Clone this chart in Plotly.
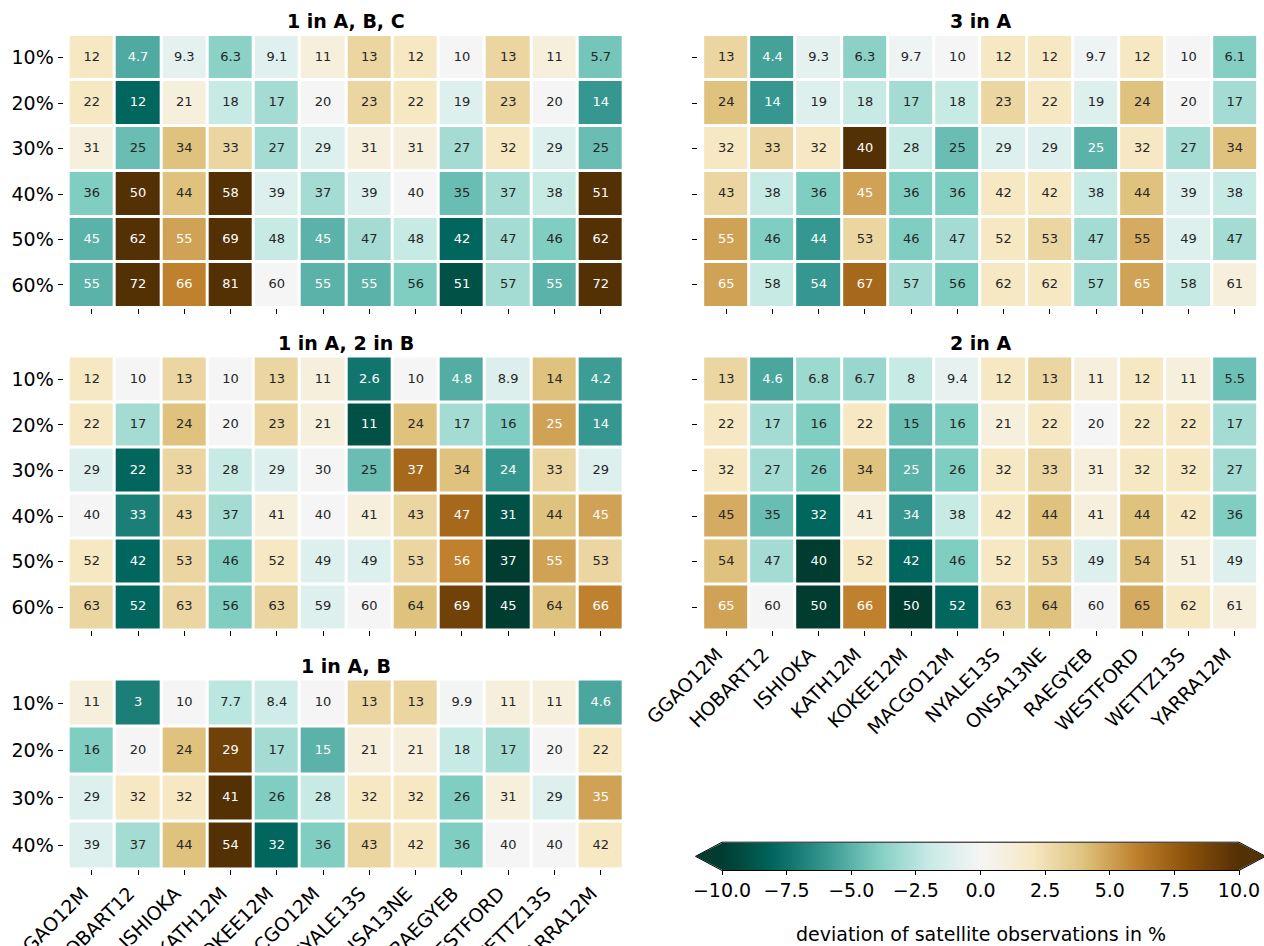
import plotly.graph_objects as go

# ---------------- data ----------------
stations = ["GGAO12M", "HOBART12", "ISHIOKA", "KATH12M", "KOKEE12M", "MACGO12M",
            "NYALE13S", "ONSA13NE", "RAEGYEB", "WESTFORD", "WETTZ13S", "YARRA12M"]
levels = [10, 20, 30, 40, 50, 60]
level_labels = ["10%", "20%", "30%", "40%", "50%", "60%"]

# satellite observations in % per station and level
abc_vals = [  # 1 in A, B, C
    [12, 4.7, 9.3, 6.3, 9.1, 11, 13, 12, 10, 13, 11, 5.7],
    [22, 12, 21, 18, 17, 20, 23, 22, 19, 23, 20, 14],
    [31, 25.4, 34, 33, 27, 29, 31, 31, 27, 32, 29, 25.4],
    [36, 50, 44, 58, 39, 37, 39, 40, 35.4, 37, 38, 51],
    [45, 62, 55, 69, 48, 45, 47, 48, 42, 47, 46, 62],
    [55, 72, 66, 81, 60, 55, 55, 56, 51, 57, 55, 72],
]
three_a_vals = [  # 3 in A
    [13, 4.4, 9.3, 6.3, 9.7, 10, 12, 12, 9.7, 12, 10, 6.1],
    [24, 14, 19, 18, 17, 18, 23, 22, 19, 24, 20, 17],
    [32, 33, 32, 40, 28, 25.4, 29, 29, 25, 32, 27, 34],
    [43, 38, 36, 45, 36, 36, 42, 42, 38, 44, 39, 38],
    [55, 46, 44, 53, 46, 47, 52, 53, 47, 54.7, 49, 47],
    [65, 58, 54, 67, 57, 56, 62, 62, 57, 65, 58, 61],
]
a2b_vals = [  # 1 in A, 2 in B
    [12, 10, 13, 10, 13, 11, 2.6, 10, 4.8, 8.9, 14, 4.2],
    [22, 17, 24, 20, 23, 21, 11, 24, 17, 16, 25, 14],
    [29, 22, 33, 28, 29, 30, 25.4, 37, 34, 24, 33, 29],
    [40, 33, 43, 37, 41, 40, 41, 43, 47, 31, 44, 45],
    [52, 42, 53, 46, 52, 49, 49, 53, 56, 37, 55, 53],
    [63, 52, 63, 56, 63, 59, 60, 64, 69, 45, 64, 66],
]
two_a_vals = [  # 2 in A
    [13, 4.6, 6.8, 6.7, 8, 9.4, 12, 13, 11, 12, 11, 5.5],
    [22, 17, 16, 22, 15.4, 16, 21, 22, 20, 22, 22, 17],
    [32, 27, 26, 34, 25, 26, 32, 33, 31, 32, 32, 27],
    [44.7, 35.4, 32, 41, 34, 38, 42, 44, 41, 44, 42, 36],
    [54, 47, 40, 52, 42, 46, 52, 53, 49, 54, 51, 49],
    [65, 60, 50, 66, 50, 52, 63, 64, 60, 64.7, 62, 61],
]
ab_vals = [  # 1 in A, B
    [11, 3, 10, 7.7, 8.4, 10, 13, 13, 9.9, 11, 11, 4.6],
    [16, 20, 24, 29, 17, 15, 21, 21, 18, 17, 20, 22],
    [29, 32, 32, 41, 26, 28, 32, 32, 26, 31, 29, 35],
    [39, 37, 44, 54, 32, 36, 43, 42, 36, 40, 40, 42],
]
cbar_ticks = [-10, -7.5, -5, -2.5, 0, 2.5, 5, 7.5, 10]

# ---------------- styling helpers ----------------
W, H = 1264, 946
FONT = "DejaVu Sans"
BRBG = ["#543005", "#8c510a", "#bf812d", "#dfc27d", "#f6e8c3", "#f5f5f5",
        "#c7eae5", "#80cdc1", "#35978f", "#01665e", "#003c30"]
CMAP = BRBG[::-1]  # BrBG_r, index 0 -> -10
colorscale = [[i / 10, c] for i, c in enumerate(CMAP)]


def hex2rgb(h):
    h = h.lstrip("#")
    return [int(h[i:i + 2], 16) for i in (0, 2, 4)]


def color_at(d):
    t = (min(max(d, -10), 10) + 10) / 20 * 10
    i = min(int(t), 9)
    f = t - i
    c0, c1 = hex2rgb(CMAP[i]), hex2rgb(CMAP[i + 1])
    return [c0[k] + (c1[k] - c0[k]) * f for k in range(3)]


def lum(rgb):
    out = []
    for v in rgb:
        v = v / 255
        out.append(v / 12.92 if v <= 0.03928 else ((v + 0.055) / 1.055) ** 2.4)
    return 0.2126 * out[0] + 0.7152 * out[1] + 0.0722 * out[2]


def xd(a, b):
    return [a / W, b / W]


def yd(top, bottom):
    return [1 - bottom / H, 1 - top / H]


def px(x):
    return x / W


def py(y):
    return 1 - y / H


fig = go.Figure()

panels = [
    # title, values, x-domain px, y-domain px, show x labels, show y labels, title y
    ("1 in A, B, C", abc_vals, (63.5, 629), (35, 307.7), False, True, 20.7),
    ("3 in A", three_a_vals, (698, 1263), (35, 307.7), False, False, 20.7),
    ("1 in A, 2 in B", a2b_vals, (63.5, 629), (356.5, 630), False, True, 343.3),
    ("2 in A", two_a_vals, (698, 1263), (356.5, 630), True, False, 343.3),
    ("1 in A, B", ab_vals, (63.5, 629), (679.5, 869), True, True, 665.7),
]

annotations = []
for k, (title, vals, xdom, ydom, showx, showy, ty) in enumerate(panels):
    n = k + 1
    sfx = "" if n == 1 else str(n)
    nrows = len(vals)
    ylabs = level_labels[:nrows]
    z = [[v - levels[r] for v in row] for r, row in enumerate(vals)]
    fig.add_trace(go.Heatmap(
        x=stations, y=ylabs, z=z, zmin=-10, zmax=10, colorscale=colorscale,
        xgap=3, ygap=3, hoverinfo="skip", showscale=(n == 1),
        xaxis="x" + sfx, yaxis="y" + sfx,
        colorbar=dict(
            orientation="h", x=(722 + 1239) / 2 / W, xanchor="center",
            y=py(842.7), yanchor="top", len=517, lenmode="pixels",
            thickness=27.3, thicknessmode="pixels", xpad=0, ypad=0,
            outlinewidth=0, ticks="outside", ticklen=5, tickwidth=1,
            tickcolor="black", tickvals=cbar_ticks,
            ticktext=["{:.1f}".format(t).replace("-", "\u2212") for t in cbar_ticks],
            tickfont=dict(family=FONT, size=19, color="black"),
        ),
    ))
    tx, ty_, tt, tc = [], [], [], []
    for r, row in enumerate(vals):
        for c, v in enumerate(row):
            tx.append(stations[c])
            ty_.append(ylabs[r])
            tt.append("{:.2g}".format(v))
            l = lum(color_at(v - levels[r]))
            tc.append("rgb(38,38,38)" if l > 0.408 else "white")
    fig.add_trace(go.Scatter(
        x=tx, y=ty_, text=tt, mode="text", hoverinfo="skip",
        textfont=dict(family=FONT, size=13, color=tc),
        xaxis="x" + sfx, yaxis="y" + sfx, showlegend=False,
    ))
    axis_common = dict(showgrid=False, zeroline=False, showline=False,
                       ticks="outside", ticklen=5, tickwidth=1, tickcolor="black",
                       tickfont=dict(family=FONT, size=19, color="black"),
                       automargin=False, fixedrange=True)
    fig.layout["xaxis" + sfx] = dict(domain=xd(*xdom), anchor="y" + sfx,
                                     type="category", showticklabels=showx,
                                     tickangle=-45, ticklabelshift=-9, **axis_common)
    fig.layout["yaxis" + sfx] = dict(domain=yd(*ydom), anchor="x" + sfx,
                                     type="category", autorange="reversed",
                                     showticklabels=showy, **axis_common)
    annotations.append(dict(
        text=title, x=px((xdom[0] + xdom[1]) / 2), y=py(ty), xref="paper", yref="paper",
        xanchor="center", yanchor="middle", showarrow=False,
        font=dict(family=FONT, size=19, color="black", weight="bold"),
    ))

annotations.append(dict(
    text="deviation of satellite observations in %", x=px(980.5), y=py(934),
    xref="paper", yref="paper", xanchor="center", yanchor="middle", showarrow=False,
    font=dict(family=FONT, size=19, color="black"),
))

# colorbar extension triangles and outline
y0, y1 = 842.7, 870.0
ym = (y0 + y1) / 2
xl, xr = 722, 1239
tl, tr = 696, 1265


def path(points, close=True):
    s = "M " + " L ".join("{:.5f},{:.5f}".format(px(a), py(b)) for a, b in points)
    return s + (" Z" if close else "")


shapes = [
    dict(type="path", xref="paper", yref="paper",
         path=path([(xl + 0.5, y0), (tl, ym), (xl + 0.5, y1)]),
         fillcolor=CMAP[0], line=dict(width=0)),
    dict(type="path", xref="paper", yref="paper",
         path=path([(xr - 0.5, y0), (tr, ym), (xr - 0.5, y1)]),
         fillcolor=CMAP[-1], line=dict(width=0)),
    dict(type="path", xref="paper", yref="paper",
         path=path([(xl, y0 - 0.5), (xr, y0 - 0.5), (tr + 0.5, ym), (xr, y1 + 0.5),
                    (xl, y1 + 0.5), (tl - 0.5, ym)]),
         fillcolor="rgba(0,0,0,0)", line=dict(width=1, color="black")),
]

fig.update_layout(
    width=W, height=H, margin=dict(l=0, r=0, t=0, b=0),
    paper_bgcolor="white", plot_bgcolor="white", showlegend=False,
    font=dict(family=FONT, size=19, color="black"),
    annotations=annotations, shapes=shapes,
)

fig.write_html("out.html", config={"displayModeBar": False},
               post_script="document.body.style.margin='0px';")
